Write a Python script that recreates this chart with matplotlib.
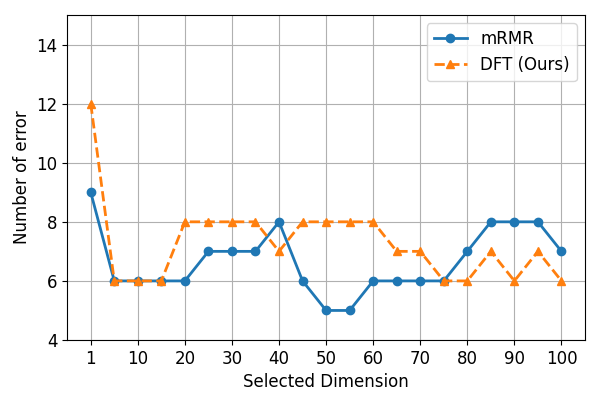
import matplotlib
matplotlib.use("Agg")
import matplotlib.pyplot as plt
import numpy as np

dims = [1, 5, 10, 15, 20, 25, 30, 35, 40, 45, 50, 55, 60, 65, 70, 75, 80, 85, 90, 95, 100]
mrmr = [9, 6, 6, 6, 6, 7, 7, 7, 8, 6, 5, 5, 6, 6, 6, 6, 7, 8, 8, 8, 7]
dft = [12, 6, 6, 6, 8, 8, 8, 8, 7, 8, 8, 8, 8, 7, 7, 6, 6, 7, 6, 7, 6]
tick_labels = ["1", "10", "20", "30", "40", "50", "60", "70", "80", "90", "100"]

plt.rcParams['font.size'] = 12
fig = plt.figure(figsize=(6, 4), dpi=100)
ax = fig.add_axes([0.112, 0.15, 0.863, 0.8125])
idx = np.arange(len(dims))
ax.plot(idx, mrmr, '-o', color='#1f77b4', linewidth=2, markersize=6, label='mRMR')
ax.plot(idx, dft, '--^', color='#ff7f0e', linewidth=2, markersize=6, label='DFT (Ours)')
ax.set_xticks(idx[::2])
ax.set_xticklabels(tick_labels)
ax.set_xlim(-1, 21)
ax.set_ylim(4, 15)
ax.set_yticks([4, 6, 8, 10, 12, 14])
ax.grid(True)
ax.set_xlabel('Selected Dimension')
ax.set_ylabel('Number of error')
ax.legend(loc='upper right')
fig.savefig('out.png', dpi=100)
